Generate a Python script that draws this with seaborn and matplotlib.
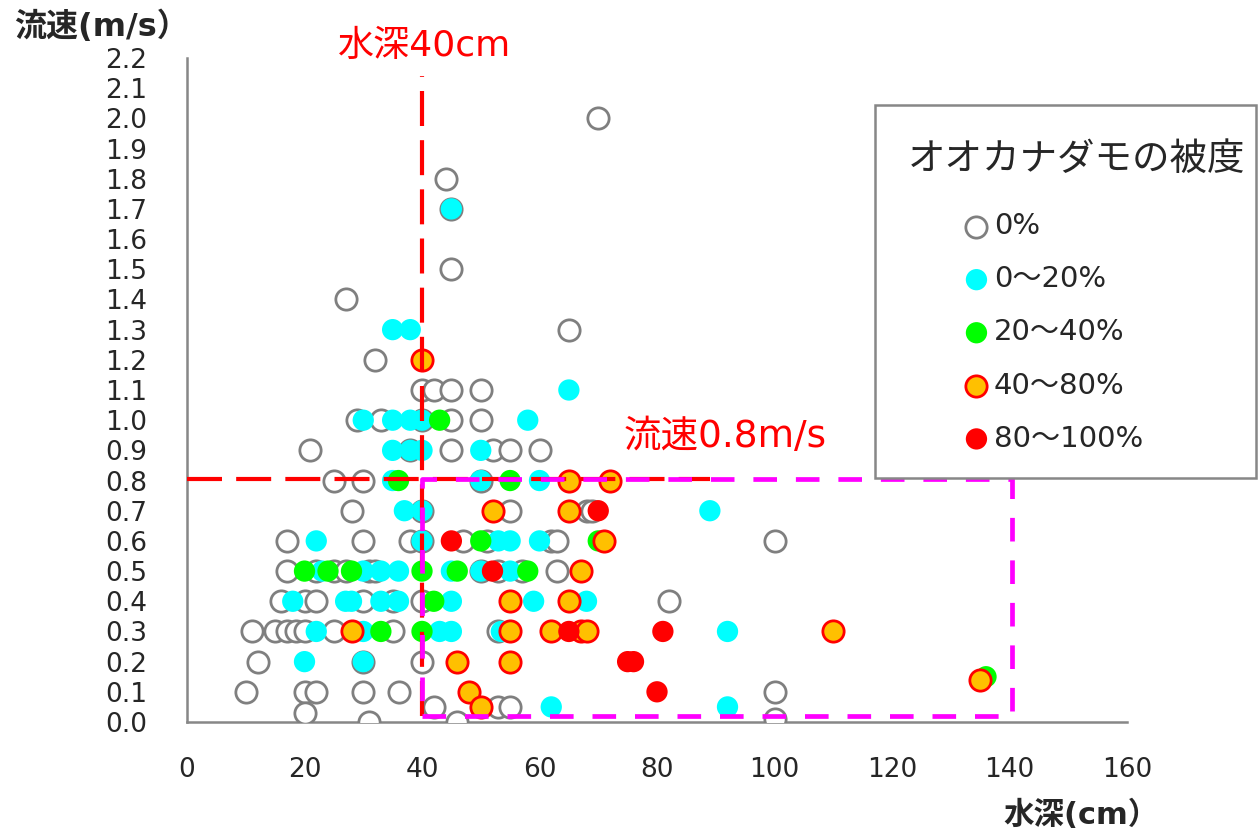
import matplotlib
matplotlib.use('Agg')

import matplotlib.pyplot as plt
import matplotlib.ticker as mticker
from matplotlib.patches import Rectangle
import numpy as np
import pandas as pd
import seaborn as sns

# 被度ごとの点 (水深cm, 流速m/s)
grey_x = [70, 44, 45, 45, 27, 65, 32,
          40, 42, 45, 50,
          29, 33, 40, 45, 50,
          21, 38, 45, 52, 55, 60,
          25, 30, 50,
          28, 40, 55, 68, 69,
          17, 30, 38, 40, 47, 51, 62, 63, 100,
          17, 22, 25, 27, 31, 32, 50, 53, 57, 63,
          16, 20, 22, 30, 35, 40, 82,
          11, 15, 17, 18.5, 20, 25, 35, 53,
          12, 30, 40,
          10, 20, 22, 30, 36, 100,
          42, 53, 55, 20, 31, 46, 100]
grey_y = [2.0, 1.8, 1.7, 1.5, 1.4, 1.3, 1.2,
          1.1, 1.1, 1.1, 1.1,
          1.0, 1.0, 1.0, 1.0, 1.0,
          0.9, 0.9, 0.9, 0.9, 0.9, 0.9,
          0.8, 0.8, 0.8,
          0.7, 0.7, 0.7, 0.7, 0.7,
          0.6, 0.6, 0.6, 0.6, 0.6, 0.6, 0.6, 0.6, 0.6,
          0.5, 0.5, 0.5, 0.5, 0.5, 0.5, 0.5, 0.5, 0.5, 0.5,
          0.4, 0.4, 0.4, 0.4, 0.4, 0.4, 0.4,
          0.3, 0.3, 0.3, 0.3, 0.3, 0.3, 0.3, 0.3,
          0.2, 0.2, 0.2,
          0.1, 0.1, 0.1, 0.1, 0.1, 0.1,
          0.05, 0.05, 0.05, 0.03, 0.0, 0.0, 0.01]

cyan_x = [45, 35, 38, 65,
          30, 35, 38, 40, 58,
          35, 38, 40, 50,
          35, 50, 60,
          37, 40, 89,
          22, 40, 53, 55, 60,
          23, 30, 33, 36, 45, 50, 55,
          18, 27, 28, 33, 36, 45, 59, 68,
          22, 30, 43, 45, 53.5, 92,
          20, 30, 62, 92]
cyan_y = [1.7, 1.3, 1.3, 1.1,
          1.0, 1.0, 1.0, 1.0, 1.0,
          0.9, 0.9, 0.9, 0.9,
          0.8, 0.8, 0.8,
          0.7, 0.7, 0.7,
          0.6, 0.6, 0.6, 0.6, 0.6,
          0.5, 0.5, 0.5, 0.5, 0.5, 0.5, 0.5,
          0.4, 0.4, 0.4, 0.4, 0.4, 0.4, 0.4, 0.4,
          0.3, 0.3, 0.3, 0.3, 0.3, 0.3,
          0.2, 0.2, 0.05, 0.05]

green_x = [43, 36, 55, 50, 70, 20, 24, 28, 40, 46, 58, 42, 33, 40, 136]
green_y = [1.0, 0.8, 0.8, 0.6, 0.6, 0.5, 0.5, 0.5, 0.5, 0.5, 0.5, 0.4, 0.3, 0.3, 0.15]

orange_x = [40, 65, 72, 52, 65, 71, 67, 55, 65, 28, 55, 62, 67, 68, 46, 55, 48, 50, 110, 135]
orange_y = [1.2, 0.8, 0.8, 0.7, 0.7, 0.6, 0.5, 0.4, 0.4, 0.3, 0.3, 0.3, 0.3, 0.3, 0.2, 0.2, 0.1, 0.05, 0.3, 0.14]

red_x = [70, 45, 52, 65, 81, 75, 76, 80]
red_y = [0.7, 0.6, 0.5, 0.3, 0.3, 0.2, 0.2, 0.1]

labels = ['0%', '0～20%', '20～40%', '40～80%', '80～100%']

df = pd.concat([
    pd.DataFrame({'水深': grey_x, '流速': grey_y, '被度': labels[0]}),
    pd.DataFrame({'水深': cyan_x, '流速': cyan_y, '被度': labels[1]}),
    pd.DataFrame({'水深': green_x, '流速': green_y, '被度': labels[2]}),
    pd.DataFrame({'水深': orange_x, '流速': orange_y, '被度': labels[3]}),
    pd.DataFrame({'水深': red_x, '流速': red_y, '被度': labels[4]}),
])

styles = {
    '0%': dict(facecolor='white', edgecolor='#7f7f7f', linewidth=2.0),
    '0～20%': dict(color='#00FFFF', edgecolor='none', linewidth=0),
    '20～40%': dict(color='#00FF00', edgecolor='none', linewidth=0),
    '40～80%': dict(color='#FFC000', edgecolor='#FF0000', linewidth=2.0),
    '80～100%': dict(color='#FF0000', edgecolor='none', linewidth=0),
}

sns.set_style('white')
plt.rcParams['font.family'] = ['DejaVu Sans', 'Noto Sans CJK JP']

fig = plt.figure(figsize=(12.58, 8.35), dpi=100)
ax = fig.add_axes([187 / 1258, 1 - 722 / 835, (1127 - 187) / 1258, (722 - 58) / 835])

for lab in labels:
    sub = df[df['被度'] == lab]
    sns.scatterplot(data=sub, x='水深', y='流速', ax=ax, s=235, marker='o',
                    label=lab, zorder=3, **styles[lab])

# 基準線
ax.plot([40, 40], [0.02, 2.14], color='#FF0000', lw=3, ls=(0, (8.4, 3.4)),
        zorder=5, clip_on=False)
ax.plot([0, 89], [0.805, 0.805], color='#FF0000', lw=3, ls=(0, (8.4, 3.4)), zorder=5)
ax.plot([40, 140.5, 140.5, 40, 40], [0.02, 0.02, 0.805, 0.805, 0.02],
        color='#FF00FF', lw=3.4, ls=(0, (5, 4)), zorder=6)

ax.text(40.5, 2.24, '水深40cm', color='#FF0000', fontsize=26,
        ha='center', va='center', clip_on=False)
ax.text(74.4, 0.944, '流速0.8m/s', color='#FF0000', fontsize=27,
        ha='left', va='center')

ax.set_xlim(0, 160)
ax.set_ylim(0, 2.2)
ax.xaxis.set_major_locator(mticker.MultipleLocator(20))
ax.xaxis.set_minor_locator(mticker.MultipleLocator(10))
ax.yaxis.set_major_locator(mticker.MultipleLocator(0.1))
ax.yaxis.set_major_formatter(mticker.FormatStrFormatter('%.1f'))
ax.tick_params(axis='y', which='major', direction='out', length=8.5, width=1.5,
               color='#878787', pad=20, labelsize=19)
ax.tick_params(axis='x', which='both', direction='out', length=5, width=1.5,
               color='#878787', pad=20, labelsize=19)
ax.set_xlabel('')
ax.set_ylabel('')
for side in ['top', 'right']:
    ax.spines[side].set_visible(False)
for side in ['left', 'bottom']:
    ax.spines[side].set_color('#878787')
    ax.spines[side].set_linewidth(1.8)

fig.text(14 / 1258, 1 - 27 / 835, '流速(m/s）', fontsize=23, fontweight='bold',
         ha='left', va='center')
fig.text(1003 / 1258, 1 - 815 / 835, '水深(cm）', fontsize=22, fontweight='bold',
         ha='left', va='center')

# 凡例
frame = Rectangle((875 / 1258, 1 - 478 / 835), (1256 - 875) / 1258, (478 - 105) / 835,
                  transform=fig.transFigure, facecolor='white', edgecolor='#878787',
                  linewidth=1.8, zorder=10)
fig.patches.append(frame)
fig.text(908 / 1258, 1 - 160 / 835, 'オオカナダモの被度', fontsize=27,
         ha='left', va='center', zorder=11)
handles, hl = ax.get_legend_handles_labels()
leg = fig.legend(handles, hl, frameon=False, loc='upper left',
                 bbox_to_anchor=(940 / 1258, 1 - 186 / 835), fontsize=21,
                 labelspacing=0.86, handletextpad=0.25, handlelength=0.7,
                 borderpad=0.4)
leg.set_zorder(12)
ax.get_legend().remove()

fig.savefig('out.png', dpi=100)
